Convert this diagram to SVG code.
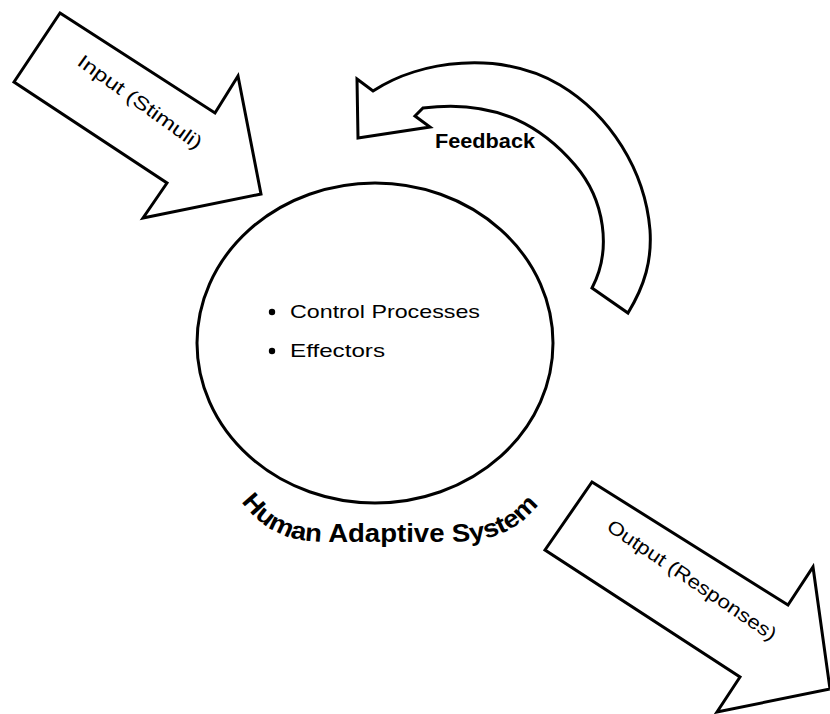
<svg xmlns="http://www.w3.org/2000/svg" width="830" height="714" viewBox="0 0 830 714">
<style>
.shape{fill:#fff;stroke:#000;stroke-width:3;stroke-linejoin:miter}
.lbl{font-family:"Liberation Sans",Arial,sans-serif;fill:#000}
</style>
<rect width="830" height="714" fill="#fff"/>
<g id="connectors">
<g id="input-arrow">
<polygon class="shape" points="60,13 215,113 238,76 261,194 143,218 167,183 14,82"/>
<text class="lbl" x="140" y="102" font-size="19" text-anchor="middle" dominant-baseline="central" textLength="148" lengthAdjust="spacingAndGlyphs" transform="rotate(35.5 140 102)">Input (Stimuli)</text>
</g>
<g id="feedback-arrow">
<path class="shape" d="M357,79 L373,91 C420,60 500,50 560,85 C610,115 645,170 650,230 C652,260 645,285 628,313 L592,288 C612,250 605,200 575,165 C545,130 500,98 423,108 L415,116 L430,127 L358,138 Z"/>
<text class="lbl" x="435" y="148" font-size="20" font-weight="bold" textLength="100" lengthAdjust="spacingAndGlyphs">Feedback</text>
</g>
<g id="output-arrow">
<polygon class="shape" points="592,482 788,605 813,567 830,689 717,712 740,677 545,550"/>
<text class="lbl" x="692" y="580" font-size="19" text-anchor="middle" dominant-baseline="central" textLength="200" lengthAdjust="spacingAndGlyphs" transform="rotate(34 692 580)">Output (Responses)</text>
</g>
</g>
<g id="system">
<ellipse class="shape" cx="375" cy="343" rx="178" ry="160"/>
<circle cx="272" cy="312" r="3.2" fill="#000"/>
<circle cx="272" cy="351" r="3.2" fill="#000"/>
<text class="lbl" x="290" y="318" font-size="19" textLength="190" lengthAdjust="spacingAndGlyphs">Control Processes</text>
<text class="lbl" x="290" y="357" font-size="19" textLength="95" lengthAdjust="spacingAndGlyphs">Effectors</text>
<defs><path id="arc" d="M240,500 C268,537 295,542 335,542 L445,542 C485,542 514,537 542,500"/></defs>
<text class="lbl" font-size="25" font-weight="bold"><textPath href="#arc" startOffset="2" textLength="322" lengthAdjust="spacingAndGlyphs">Human Adaptive System</textPath></text>
</g>
</svg>
